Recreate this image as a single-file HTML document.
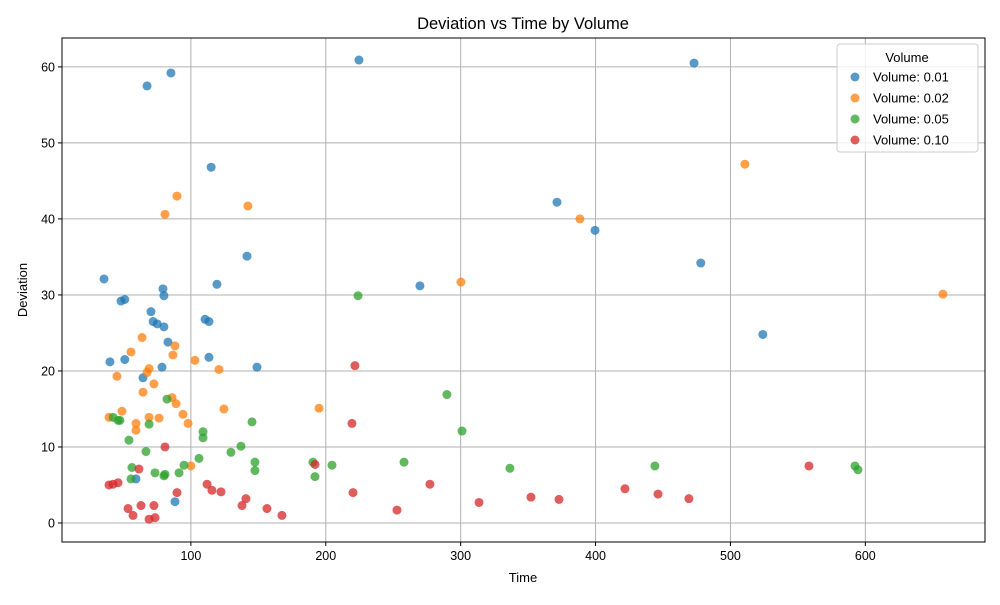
<!DOCTYPE html>
<html><head><meta charset="utf-8"><style>
body{margin:0;background:#fff;font-family:"Liberation Sans",sans-serif}
svg text{font-family:"Liberation Sans",sans-serif;fill:#000}
</style></head><body>
<svg id="chart" width="1000" height="600" viewBox="0 0 1000 600" xmlns="http://www.w3.org/2000/svg">
<rect width="1000" height="600" fill="#fff"/>
<text x="523" y="29" font-size="16.5" text-anchor="middle">Deviation vs Time by Volume</text>
<g id="grid"></g>
<g id="points"></g>
<rect x="62" y="38" width="923" height="504" fill="none" stroke="#000" stroke-width="1"/>
<g id="ticks"></g>
<text x="523" y="582" font-size="13" text-anchor="middle">Time</text>
<text x="27" y="290" font-size="13" text-anchor="middle" transform="rotate(-90 27 290)">Deviation</text>
<g id="legend"></g>
</svg>
<script>
const xTicks=[100,200,300,400,500,600];
const yTicks=[0,10,20,30,40,50,60];
const seriesLabels=["Volume: 0.01","Volume: 0.02","Volume: 0.05","Volume: 0.10"];
const seriesColors=["#1f77b4","#ff7f0e","#2ca02c","#d62728"];
const t001=[35.6,40,48.2,51,51,64.5,67.5,70.4,72,75,78.6,79.3,80,80,83,85.2,88.2,59.3,110.5,113.4,113.4,115,119.3,141.6,149,224.6,269.8,371.4,399.6,473,478,524];
const d001=[32.1,21.2,29.2,29.4,21.5,19.1,57.5,27.8,26.5,26.2,20.5,30.8,29.9,25.8,23.8,59.2,2.8,5.8,26.8,26.5,21.8,46.8,31.4,35.1,20.5,60.9,31.2,42.2,38.5,60.5,34.2,24.8];
const t002=[39.3,45.2,48.9,55.6,59.3,59.3,63.8,64.5,67.5,69,69,72.6,76.4,80.8,86.7,86,88.2,89,89.7,94.1,97.9,100,103,120.8,124.5,142.3,195,300.2,388.4,510.7,657.5];
const d002=[13.9,19.3,14.7,22.5,13.1,12.2,24.4,17.2,19.8,20.3,13.9,18.3,13.8,40.6,22.1,16.5,23.3,15.7,43,14.3,13.1,7.5,21.4,20.2,15,41.7,15.1,31.7,40,47.2,30.1];
const t005=[42.3,46,47.4,54.1,56.3,55.6,66.7,69,73.4,80,80.8,82.3,91.2,94.9,106,109,109,129.7,137.1,145.3,147.5,147.5,190.5,192,204.6,223.9,258,289.8,301,336.5,444,592.3,594.5];
const d005=[13.9,13.5,13.5,10.9,7.3,5.8,9.4,13,6.6,6.2,6.4,16.3,6.6,7.6,8.5,12,11.2,9.3,10.1,13.3,8,6.9,8,6.1,7.6,29.9,8,16.9,12.1,7.2,7.5,7.5,7];
const t010=[39.3,42.3,46,53.4,57.1,61.5,63,69,72.6,73.4,80.8,89.7,112,115.6,122.3,137.9,140.8,156.4,167.5,192,219.4,220.2,221.6,252.8,277.2,313.6,352.1,372.9,421.8,446.3,469.2,558.2];
const d010=[5,5.1,5.3,1.9,1,7.1,2.3,0.5,2.3,0.7,10,4,5.1,4.3,4.1,2.3,3.2,1.9,1,7.7,13.1,4,20.7,1.7,5.1,2.7,3.4,3.1,4.5,3.8,3.2,7.5];
const seriesT=[t001,t002,t005,t010];
const seriesD=[d001,d002,d005,d010];
const NS="http://www.w3.org/2000/svg";
const X0=62,X1=985,Y0=542,Y1=38;
const xMin=4.45,xMax=688.7,yMin=-2.5,yMax=63.8;
function xs(v){return X0+(v-xMin)/(xMax-xMin)*(X1-X0);}
function ys(v){return Y0-(v-yMin)/(yMax-yMin)*(Y0-Y1);}
function mk(tag,attrs,parent){const e=document.createElementNS(NS,tag);for(const k in attrs)e.setAttribute(k,attrs[k]);parent.appendChild(e);return e;}
const grid=document.getElementById('grid'),ticks=document.getElementById('ticks'),pts=document.getElementById('points'),leg=document.getElementById('legend');
xTicks.forEach(v=>{const x=xs(v);
 const g=mk('line',{x1:x,x2:x,y1:Y1,y2:Y0,stroke:'#b0b0b0','stroke-width':1},grid);
 
 
 const t=mk('line',{x1:x,x2:x,y1:Y0,y2:Y0+4,stroke:'#000'},ticks);
 
 
 const l=mk('text',{x:x,y:Y0+18,'font-size':12.5,'text-anchor':'middle'},ticks);l.textContent=v;
 
 
});
yTicks.forEach(v=>{const y=ys(v);
 const g=mk('line',{x1:X0,x2:X1,y1:y,y2:y,stroke:'#b0b0b0','stroke-width':1},grid);
 
 
 const t=mk('line',{x1:X0-4,x2:X0,y1:y,y2:y,stroke:'#000'},ticks);
 
 
 const l=mk('text',{x:X0-7,y:y+4.5,'font-size':12.5,'text-anchor':'end'},ticks);l.textContent=v;
 
 
});
seriesT.forEach((ts,s)=>{ts.forEach((t,i)=>{
 const c=mk('circle',{cx:xs(t),cy:ys(seriesD[s][i]),r:4.5,fill:seriesColors[s],'fill-opacity':0.75},pts);
 
 
});});
mk('rect',{x:837,y:44,width:141,height:108,rx:3,fill:'#fff','fill-opacity':0.8,stroke:'#ccc'},leg);
const lt=mk('text',{x:907,y:62,'font-size':13,'text-anchor':'middle'},leg);lt.textContent='Volume';


seriesLabels.forEach((lab,s)=>{const y=77+s*21;
 const c=mk('circle',{cx:855,cy:y,r:4.5,fill:seriesColors[s],'fill-opacity':0.75},leg);
 
 
 const t=mk('text',{x:873,y:y+4.5,'font-size':13},leg);t.textContent=lab;
 
 
});
</script>
</body></html>
